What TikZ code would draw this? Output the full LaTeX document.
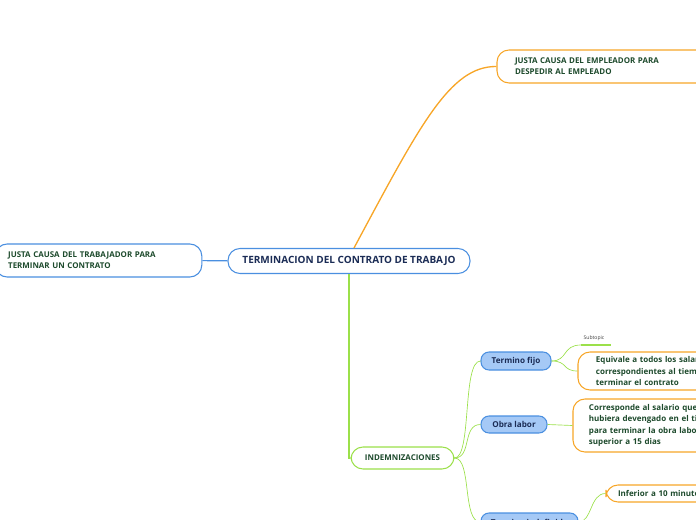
\documentclass[tikz,border=0pt]{standalone}
\usepackage{fontspec}
\setmainfont{Open Sans}
\usetikzlibrary{positioning}

\definecolor{topicblue}{HTML}{4A8FE0}
\definecolor{topicorange}{HTML}{F7A628}
\definecolor{topicgreen}{HTML}{9BE04A}
\definecolor{fillblue}{HTML}{A5C9F6}
\definecolor{navytext}{HTML}{1B2C55}
\definecolor{greentext}{HTML}{1D4A2C}

\begin{document}
\begin{tikzpicture}[x=0.75pt, y=-0.75pt,
    central/.style={draw=topicblue, line width=0.8pt, rounded corners=9pt, fill=white,
        text=navytext, font=\bfseries\fontsize{7.5}{8}\selectfont,
        minimum width=181.5pt, minimum height=18.75pt, inner sep=0pt},
    topic/.style={rounded corners=9pt, fill=white, line width=0.8pt,
        text=greentext, font=\bfseries\fontsize{5.95}{8.25}\selectfont, align=left},
    subnode/.style={draw=topicblue, fill=fillblue, line width=0.8pt, rounded corners=6pt,
        text=navytext, font=\bfseries\fontsize{6.1}{7}\selectfont, inner sep=0pt},
    leaf/.style={draw=topicorange, fill=white, line width=0.8pt, rounded corners=9pt,
        text=greentext, font=\bfseries\fontsize{6}{8.4}\selectfont, align=left},
    branch/.style={topicgreen, line width=0.5pt}
]

    %% Background
    \useasboundingbox (0,0) rectangle (696,520);

    % Main topic
    \node[central] (contrato) at (349,261) {TERMINACION DEL CONTRATO DE TRABAJO};

    % Left topic
    \node[topic, draw=topicblue, minimum width=155pt, minimum height=24.75pt,
        inner xsep=9.75pt, text width=135.5pt] (trabajador) at (98.5,260.5)
        {JUSTA CAUSA DEL TRABAJADOR PARA\\TERMINAR UN CONTRATO};

    % Top right topic
    \node[topic, draw=topicorange, minimum width=172.5pt, minimum height=24.75pt,
        inner xsep=13.5pt, text width=145.5pt] (empleador) at (612,66.5)
        {JUSTA CAUSA DEL EMPLEADOR PARA\\DESPEDIR AL EMPLEADO};

    % Indemnizaciones
    \node[topic, draw=topicgreen, minimum width=77.25pt, minimum height=16.5pt,
        inner sep=0pt, align=center] (indem) at (402.5,458) {INDEMNIZACIONES};

    \node[subnode, minimum width=52.5pt, minimum height=13.5pt] (fijo) at (516,361) {Termino fijo};
    \node[subnode, minimum width=49.5pt, minimum height=12.75pt] (obra) at (514,424.5) {Obra labor};
    \node[subnode, minimum width=72.75pt, minimum height=13.5pt] (indefinido) at (529.5,522) {Termino indefinido};

    % Leaves
    \node[leaf, minimum width=200pt, minimum height=28.5pt, inner xsep=13.5pt,
        text width=173pt] (equivale) at (711.3,371)
        {Equivale a todos los salarios\\correspondientes al tiempo que falte\\terminar el contrato};
    \node[leaf, minimum width=200pt, minimum height=39.75pt, inner xsep=12pt,
        text width=176pt] (salario) at (706.3,425.5)
        {Corresponde al salario que\\hubiera devengado en el tiempo\\para terminar la obra labor\\superior a 15 dias};
    \node[leaf, minimum width=90pt, minimum height=12.75pt, inner xsep=9pt, inner ysep=0pt,
        text width=72pt] (inferior) at (666,493.5) {Inferior a 10 minutos};

    \node[font=\fontsize{3.8}{4}\selectfont, text=black!75, inner sep=1pt] (subtopic) at (594,338) {Subtopic};
    \coordinate (sub-a) at (581,345);
    \coordinate (sub-b) at (611,345);
    \coordinate (abajo) at (600,540);

    % Connectors
    \draw[topicblue, line width=0.8pt] (trabajador) -- (contrato);
    \draw[topicorange, line width=1pt]
    (contrato.north) ++(5,0) coordinate (c-top)
    (c-top) .. controls (420,125) and (450,66) .. (empleador.west)
    ;
    \draw[topicgreen, line width=1pt] (contrato.south) |- (indem.west);

    \draw[branch] (indem.east) .. controls (472,458) and (462,361) .. (fijo.west);
    \draw[branch] (indem.east) .. controls (472,458) and (462,424.5) .. (obra.west);
    \draw[branch] (indem.east) .. controls (472,458) and (462,522) .. (indefinido.west);

    \draw[branch] (fijo.east) .. controls (568,361) and (562,345) .. (sub-a);
    \draw[topicgreen, line width=1pt] (sub-a) -- (sub-b);
    \draw[branch] (fijo.east) .. controls (568,361) and (562,371) .. (equivale.west);
    \draw[branch] (obra.east) -- (salario.west);
    \draw[branch] (indefinido.east) .. controls (592,522) and (590,493.5) .. (inferior.west);
    \draw[branch] (indefinido.east) .. controls (592,522) and (596,530) .. (abajo);

\end{tikzpicture}
\end{document}
